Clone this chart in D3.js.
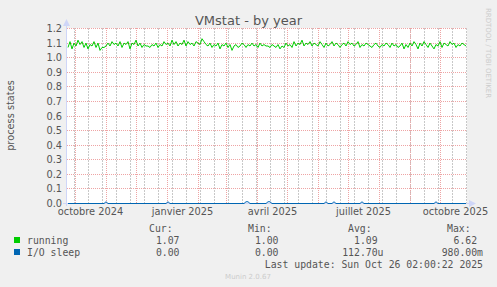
<!DOCTYPE html>
<html lang="fr">
<head>
<meta charset="UTF-8">
<title>VMstat - by year</title>
<script src="https://d3js.org/d3.v7.min.js"></script>
<style>
  body { margin: 0; background: #f0f0f0; }
  svg { display: block; }
  .lbl { font-family: "DejaVu Sans", sans-serif; fill: #555; }
  .mono { font-family: "DejaVu Sans Mono", monospace; font-size: 9.8px; fill: #555; }
</style>
</head>
<body>
<svg width="497" height="287"></svg>
<script>
// running processes, one value every 2 days from 2024-09-23
const running = [
  1.07,1.11,1.06,1.10,1.08,1.12,1.09,1.11,1.07,1.10,1.06,1.09,1.08,1.11,1.07,1.10,1.05,1.07,1.07,1.08,
  1.10,1.08,1.11,1.09,1.10,1.08,1.11,1.07,1.10,1.09,1.11,1.06,1.10,1.09,1.12,1.08,1.10,1.07,1.09,1.08,
  1.08,1.07,1.09,1.08,1.10,1.07,1.09,1.08,1.11,1.09,1.10,1.08,1.12,1.09,1.11,1.08,1.10,1.09,1.12,1.08,
  1.11,1.09,1.10,1.08,1.11,1.10,1.09,1.13,1.11,1.09,1.08,1.10,1.07,1.09,1.08,1.10,1.06,1.09,1.08,1.10,
  1.07,1.09,1.05,1.08,1.09,1.07,1.08,1.10,1.09,1.07,1.09,1.08,1.10,1.08,1.09,1.07,1.10,1.08,1.09,1.08,
  1.08,1.07,1.09,1.08,1.07,1.09,1.06,1.08,1.07,1.10,1.08,1.09,1.07,1.11,1.08,1.10,1.09,1.12,1.08,1.10,
  1.09,1.11,1.08,1.10,1.09,1.08,1.11,1.09,1.07,1.10,1.08,1.09,1.11,1.08,1.10,1.09,1.07,1.09,1.10,1.08,
  1.11,1.09,1.10,1.08,1.09,1.11,1.07,1.09,1.08,1.10,1.09,1.08,1.07,1.09,1.10,1.08,1.07,1.09,1.08,1.10,
  1.09,1.07,1.10,1.08,1.09,1.07,1.08,1.10,1.06,1.09,1.07,1.10,1.08,1.11,1.09,1.06,1.10,1.08,1.11,1.09,
  1.07,1.10,1.08,1.06,1.09,1.08,1.11,1.07,1.10,1.09,1.08,1.11,1.09,1.10,1.07,1.09,1.08,1.10,1.09,1.08
];
// I/O sleep, same sampling
const ioSleep = [
  0,0,0,0,0,0,0,0,0,0,0,0,0,0,0,0,0,0,0,0.012,
  0,0,0,0,0,0,0,0,0,0,0,0,0,0,0,0,0,0,0,0,
  0,0,0,0,0,0,0,0,0,0,0.012,0,0,0,0,0,0,0,0,0,
  0,0,0,0,0,0,0,0,0,0,0,0,0,0,0,0,0,0,0,0,
  0,0,0,0,0,0,0,0,0,0.012,0.012,0,0,0,0,0,0,0,0,0,
  0.012,0.012,0,0,0,0,0,0,0,0,0,0,0,0,0,0,0,0,0,0,
  0,0,0,0,0,0,0,0,0,0.012,0,0,0,0.012,0,0,0,0,0,0,
  0,0,0,0,0,0,0,0.012,0,0,0,0,0,0,0,0,0,0,0,0,
  0,0,0,0,0,0,0,0,0,0,0,0,0,0,0,0,0,0,0,0,
  0,0,0,0,0.012,0,0,0,0,0,0,0,0,0,0,0,0,0,0,0
];
const yTicks = [0, 0.1, 0.2, 0.3, 0.4, 0.5, 0.6, 0.7, 0.8, 0.9, 1.0, 1.1, 1.2];
const xLabels = [
  { month: new Date(Date.UTC(2024, 9, 1)), text: "octobre 2024" },
  { month: new Date(Date.UTC(2025, 0, 1)), text: "janvier 2025" },
  { month: new Date(Date.UTC(2025, 3, 1)), text: "avril 2025" },
  { month: new Date(Date.UTC(2025, 6, 1)), text: "juillet 2025" },
  { month: new Date(Date.UTC(2025, 9, 1)), text: "octobre 2025" }
];
const series = [
  { name: "running", color: "#00cc00", cur: "1.07", min: "1.00", avg: "1.09 ", max: "6.62 " },
  { name: "I/O sleep", color: "#0066b3", cur: "0.00", min: "0.00", avg: "112.70u", max: "980.00m" }
];

const start = new Date(Date.UTC(2024, 8, 22, 12));
const end = new Date(Date.UTC(2025, 9, 27, 12));
const svg = d3.select("svg");

const x = d3.scaleUtc().domain([start, end]).range([67, 467]);
const y = d3.scaleLinear().domain([0, 1.2]).range([203.5, 28.5]);
const day = i => d3.utcDay.offset(new Date(Date.UTC(2024, 8, 23, 12)), i * 2);
const px = v => Math.floor(v) + 0.5;

// canvas
svg.append("rect").attr("x", 67).attr("y", 28).attr("width", 400).attr("height", 176).attr("fill", "#fff");

// minor grid: every other monday from 2024-09-30
const minor = d3.utcDay.range(new Date(Date.UTC(2024, 8, 30)), end, 14);
svg.append("g").selectAll("line").data(minor).join("line")
  .attr("x1", d => px(x(d))).attr("x2", d => px(x(d)))
  .attr("y1", 28).attr("y2", 203)
  .attr("stroke", "#c8c8c8").attr("stroke-dasharray", "2,1");

// major grid: months and 0.1 steps
const months = d3.utcMonth.range(start, end);
svg.append("g").selectAll("line").data(months).join("line")
  .attr("x1", d => px(x(d))).attr("x2", d => px(x(d)))
  .attr("y1", 28).attr("y2", 203)
  .attr("stroke", "#eea4a4").attr("stroke-dasharray", "1,1");
svg.append("g").selectAll("line").data(yTicks).join("line")
  .attr("x1", 67).attr("x2", 467)
  .attr("y1", d => px(y(d))).attr("y2", d => px(y(d)))
  .attr("stroke", "#eea4a4").attr("stroke-dasharray", "1,1");

// axes
svg.append("line").attr("x1", 66.5).attr("x2", 66.5).attr("y1", 206).attr("y2", 24).attr("stroke", "#cfd6f8");
svg.append("line").attr("x1", 63).attr("x2", 470).attr("y1", 203.5).attr("y2", 203.5).attr("stroke", "#cfd6f8");
svg.append("path").attr("d", "M63,26 L70,26 L66.5,19 Z").attr("fill", "#cfd6f8");
svg.append("path").attr("d", "M469,200 L469,207 L476,203.5 Z").attr("fill", "#cfd6f8");

// data lines
const line = d3.line().x((d, i) => x(day(i))).y(d => y(d));
svg.append("path").datum(ioSleep).attr("d", line).attr("fill", "none").attr("stroke", "#0066b3").attr("stroke-width", 1);
svg.append("path").datum(running).attr("d", line).attr("fill", "none").attr("stroke", "#00cc00").attr("stroke-width", 1);

// y labels
svg.append("g").selectAll("text").data(yTicks).join("text")
  .attr("class", "lbl").attr("font-size", 9.8)
  .attr("x", 62).attr("y", d => px(y(d)) + 3.5).attr("text-anchor", "end")
  .text(d => d3.format(".1f")(d));

// x labels, centered half a month after the month start
svg.append("g").selectAll("text").data(xLabels).join("text")
  .attr("class", "lbl").attr("font-size", 9.8).attr("text-anchor", "middle")
  .attr("x", d => x(d3.utcDay.offset(d.month, 15))).attr("y", 215)
  .text(d => d.text);

// titles
svg.append("text").attr("class", "lbl").attr("font-size", 13).attr("text-anchor", "middle")
  .attr("x", 248.5).attr("y", 24.5).text("VMstat - by year");
svg.append("text").attr("class", "lbl").attr("font-size", 9.8).attr("text-anchor", "middle")
  .attr("transform", "translate(14,115.5) rotate(-90)").text("process states");
svg.append("text").attr("font-family", "DejaVu Sans, sans-serif").attr("font-size", 7).attr("fill", "#cccccc")
  .attr("text-anchor", "middle").attr("transform", "translate(486,53) rotate(90)").text("RRDTOOL / TOBI OETIKER");

// legend
const cols = [{ k: "cur", h: "Cur:", hx: 149 }, { k: "min", h: "Min:", hx: 248 }, { k: "avg", h: "Avg:", hx: 348 }, { k: "max", h: "Max:", hx: 447 }];
const ends = { cur: 179.5, min: 278.5, avg: 383.5, max: 483 };
svg.append("g").selectAll("text").data(cols).join("text")
  .attr("class", "mono").attr("x", d => d.hx).attr("y", 232).text(d => d.h);
series.forEach((s, i) => {
  const yy = 244 + i * 12;
  svg.append("rect").attr("x", 14).attr("y", yy - 7).attr("width", 6).attr("height", 6).attr("fill", s.color);
  svg.append("text").attr("class", "mono").attr("x", 27).attr("y", yy).text(s.name);
  cols.forEach(c => {
    svg.append("text").attr("class", "mono").attr("x", ends[c.k]).attr("y", yy)
      .attr("text-anchor", "end").attr("xml:space", "preserve").style("white-space", "pre").text(s[c.k]);
  });
});
svg.append("text").attr("class", "mono").attr("x", 483).attr("y", 268).attr("text-anchor", "end")
  .text("Last update: Sun Oct 26 02:00:22 2025");
svg.append("text").attr("font-family", "DejaVu Sans, sans-serif").attr("font-size", 7).attr("fill", "#cccccc")
  .attr("text-anchor", "middle").attr("x", 248).attr("y", 278.5).text("Munin 2.0.67");
</script>
</body>
</html>
